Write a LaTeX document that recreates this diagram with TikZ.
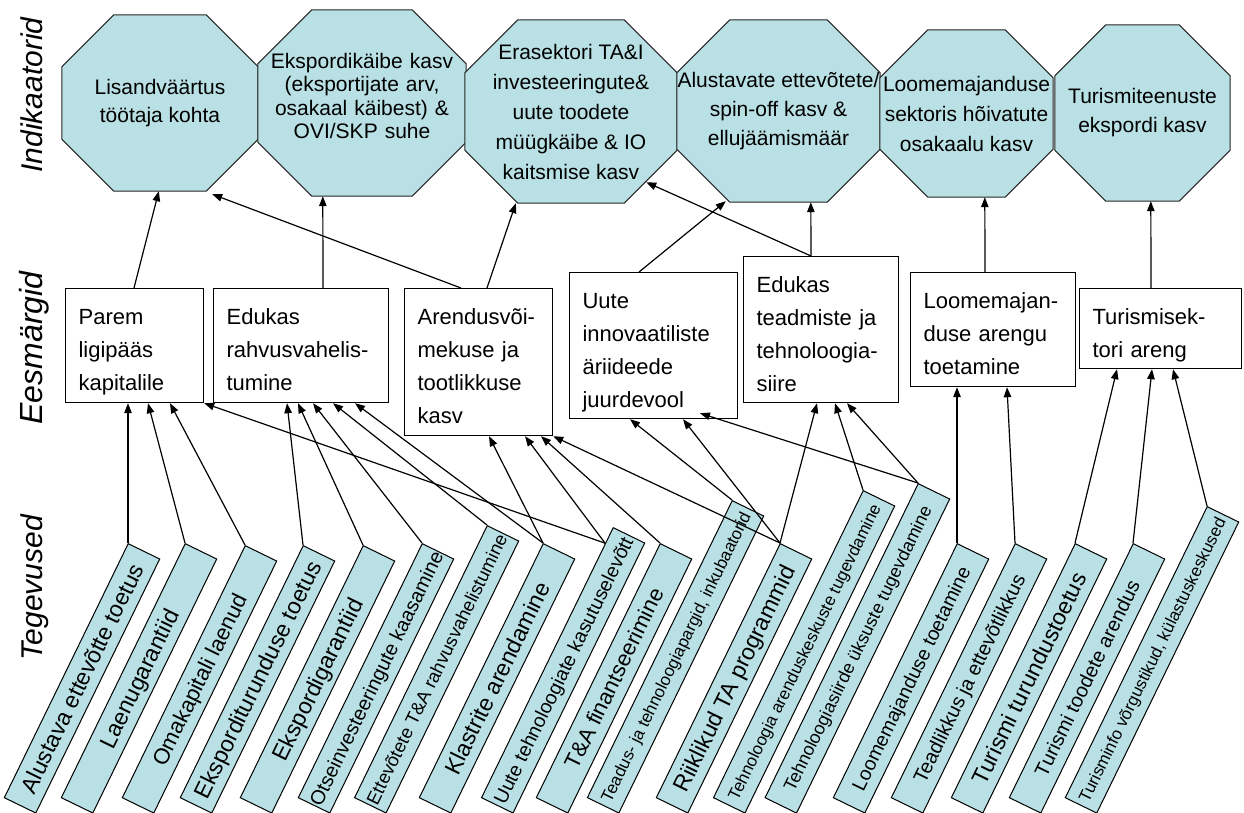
\documentclass[tikz,border=0pt]{standalone}
\usepackage{fontspec}
\setmainfont{Liberation Sans}
\usetikzlibrary{arrows.meta,calc}
\pgfdeclarelayer{background}
\pgfsetlayers{background,main}
\definecolor{tealfill}{RGB}{185,224,228}

% octagon outline around a rectangular node: #1 node name, #2 corner cut
\newcommand{\octagonfor}[2]{%
  \path[octline] ($(#1.north west)+(#2,0)$) -- ($(#1.north east)+(-#2,0)$)
    -- ($(#1.north east)+(0,#2)$) -- ($(#1.south east)+(0,-#2)$)
    -- ($(#1.south east)+(-#2,0)$) -- ($(#1.south west)+(#2,0)$)
    -- ($(#1.south west)+(0,-#2)$) -- ($(#1.north west)+(0,#2)$) -- cycle;}

\begin{document}
\begin{tikzpicture}[x=1pt,y=-1pt,
  oct/.style={inner sep=0pt, align=center, font=\fontsize{21}{#1}\selectfont},
  octline/.style={fill=tealfill, draw=black!85, line width=1pt},
  goal/.style={draw, fill=white, line width=1.2pt, anchor=north west,
    inner xsep=13pt, inner ysep=0pt, align=left,
    font=\fontsize{22}{33}\selectfont, text height=36pt},
  act/.style={draw, fill=tealfill, line width=1pt, inner sep=0pt,
    minimum height=35pt, rotate=64, anchor=north east,
    font=\fontsize{#1}{#1}\selectfont, text height=0.72*#1pt, text depth=0pt},
  side/.style={rotate=90, anchor=base, inner sep=0pt,
    font=\fontsize{#1}{#1}\selectfont\itshape},
  arr/.style={line width=1.2pt, -{Triangle[length=10pt,width=7.5pt]}}]

\begin{pgfonlayer}{background}
  \fill[white] (0,0) rectangle (1244,812);
\end{pgfonlayer}
\useasboundingbox (0,0) rectangle (1244,812);

% row titles
\node[side=30] (tInd) at (42,95) {Indikaatorid};
\node[side=32] (tEes) at (42,348) {Eesmärgid};
\node[side=30] (tTeg) at (42,588) {Tegevused};

% indicators
\node[oct=28, minimum width=196pt, minimum height=176pt] (o1) at (160,103)
  {Lisandväärtus\\töötaja kohta};
\node[oct=23.5, minimum width=208pt, minimum height=186pt, text width=206pt,
  text height=16pt, text depth=86pt] (o2) at (362,103)
  {Ekspordikäibe kasv\\(eksportijate arv,\\osakaal käibest) \&\\OVI/SKP suhe};
\node[oct=30, minimum width=212pt, minimum height=183pt] (o3) at (571,111.5)
  {Erasektori TA\&I\\investeeringute\&\\uute toodete\\müügkäibe \& IO\\kaitsmise kasv};
\node[oct=29, minimum width=203pt, minimum height=182pt] (o4) at (778.5,111)
  {Alustavate ettevõtete/\\spin-off kasv \&\\ellujäämismäär};
\node[oct=30, minimum width=173pt, minimum height=167pt] (o5) at (966.5,113.5)
  {Loomemajanduse\\sektoris hõivatute\\osakaalu kasv};
\node[oct=29, minimum width=175pt, minimum height=176pt] (o6) at (1142.5,113)
  {Turismiteenuste\\ekspordi kasv};

\begin{pgfonlayer}{background}
  \foreach \n/\c in {o1/52,o2/54,o3/53,o4/53,o5/48,o6/51} {\octagonfor{\n}{\c}}
\end{pgfonlayer}

% goals
\node[goal, text width=112pt, text depth=78pt] (g1) at (65,288) {Parem\\ligipääs\\kapitalile};
\node[goal, text width=149pt, text depth=78pt] (g2) at (213,288) {Edukas\\rahvusvahelis-\\tumine};
\node[goal, text width=122pt, text depth=111pt] (g3) at (404,288) {Arendusvõi-\\mekuse ja\\tootlikkuse\\kasv};
\node[goal, text width=142pt, text depth=110pt] (g4) at (569,272) {Uute\\innovaatiliste\\äriideede\\juurdevool};
\node[goal, text width=129pt, text depth=110pt] (g5) at (743,256) {Edukas\\teadmiste ja\\tehnoloogia-\\siire};
\node[goal, text width=139pt, text depth=78pt] (g6) at (910,272) {Loomemajan-\\duse arengu\\toetamine};
\node[goal, text width=136pt, text depth=44pt] (g7) at (1079,288) {Turismisek-\\tori areng};

% activities
\node[act=23, minimum width=282.6pt] (a1) at (128,543) {\makebox[0pt]{Alustava ettevõtte toetus}};
\node[act=23, minimum width=282.6pt] (a2) at (185,543) {\makebox[0pt]{Laenugarantiid}};
\node[act=22, minimum width=280.4pt] (a3) at (245,545) {\makebox[0pt]{Omakapitali laenud}};
\node[act=23, minimum width=280.4pt] (a4) at (303,545) {\makebox[0pt]{Eksporditurunduse toetus}};
\node[act=23, minimum width=280.4pt] (a5) at (363,545) {\makebox[0pt]{Ekspordigarantiid}};
\node[act=20, minimum width=282.6pt] (a6) at (422,543) {\makebox[0pt]{Otseinvesteeringute kaasamine}};
\node[act=18.5, minimum width=302.6pt] (a7) at (487,525) {\makebox[0pt]{Ettevõtete T\&A rahvusvahelistumine}};
\node[act=23, minimum width=282.6pt] (a8) at (543,543) {\makebox[0pt]{Klastrite arendamine}};
\node[act=19.5, minimum width=300.4pt] (a9) at (613,527) {\makebox[0pt]{Uute tehnoloogiate kasutuselevõtt}};
\node[act=22, minimum width=282.6pt] (a10) at (660,543) {\makebox[0pt]{T\&A finantseerimine}};
\node[act=17, minimum width=330.4pt] (a11) at (732,500) {\makebox[0pt]{Teadus- ja tehnoloogiapargid, inkubaatorid}};
\node[act=23, minimum width=282.6pt] (a12) at (780,543) {\makebox[0pt]{Riiklikud TA programmid}};
\node[act=17, minimum width=341.6pt] (a13) at (863,490) {\makebox[0pt]{Tehnoloogia arenduskeskuste tugevdamine}};
\node[act=18, minimum width=349.4pt] (a14) at (918,483) {\makebox[0pt]{Tehnoloogiasiirde üksuste tugevdamine}};
\node[act=19.5, minimum width=282.6pt] (a15) at (957,543) {\makebox[0pt]{Loomemajanduse toetamine}};
\node[act=20, minimum width=282.6pt] (a16) at (1015,543) {\makebox[0pt]{Teadlikkus ja ettevõtlikkus}};
\node[act=23, minimum width=282.6pt] (a17) at (1075,543) {\makebox[0pt]{Turismi turundustoetus}};
\node[act=20, minimum width=282.6pt] (a18) at (1133,543) {\makebox[0pt]{Turismi toodete arendus}};
\node[act=17, minimum width=323.8pt] (a19) at (1207,506) {\makebox[0pt]{Turisminfo võrgustikud, külastuskeskused}};

\coordinate (c9) at ($(a9.north east)!18pt!(a9.north west)$);

% goals -> indicators
\draw[arr] ($(g1.north west)+(69,0)$) -- ($(o1.south west)+(97,0)$);
\draw[arr] ($(g2.north west)+(110,0)$) -- ($(o2.south west)+(65,0)$);
\draw[arr] ($(g3.north west)+(57,0)$) -- ($(o1.south east)+(-46,3)$);
\draw[arr] ($(g3.north west)+(83,0)$) -- ($(o3.south west)+(51,0)$);
\draw[arr] ($(g4.north west)+(70,0)$) -- ($(o4.south west)+(49,-1)$);
\draw[arr] ($(g5.north west)+(68,0)$) -- ($(o4.south west)+(134,0)$);
\draw[arr] ($(g5.north west)+(68,0)$) -- ($(o3.south east)+(-31,-21)$);
\draw[arr] ($(g6.north west)+(75,0)$) -- ($(o5.south west)+(105,0)$);
\draw[arr] ($(g7.north west)+(72,0)$) -- ($(o6.south west)+(96,0)$);

% activities -> goals
\draw[arr] (a1.north east) -- ($(g1.south west)+(63,0)$);
\draw[arr] (a2.north east) -- ($(g1.south west)+(83,0)$);
\draw[arr] (a3.north east) -- ($(g1.south west)+(105,0)$);
\draw[arr] (c9) -- (g1.south east);
\draw[arr] (a4.north east) -- ($(g2.south west)+(74,0)$);
\draw[arr] (a5.north east) -- ($(g2.south west)+(85,0)$);
\draw[arr] (a6.north east) -- ($(g2.south west)+(100,0)$);
\draw[arr] (a7.north east) -- ($(g2.south west)+(120,0)$);
\draw[arr] (a8.north east) -- ($(g2.south west)+(142,0)$);
\draw[arr] (a8.north east) -- ($(g3.south west)+(85,0)$);
\draw[arr] (c9) -- ($(g3.south west)+(121,0)$);
\draw[arr] (a10.north east) -- ($(g3.south west)+(137,0)$);
\draw[arr] (a12.north east) -- (g3.south east);
\draw[arr] (a11.north east) -- ($(g4.south west)+(61,0)$);
\draw[arr] (a12.north east) -- ($(g4.south west)+(114,0)$);
\draw[arr] (a14.north east) -- ($(g4.south west)+(131,-6)$);
\draw[arr] (a12.north east) -- ($(g5.south west)+(74,0)$);
\draw[arr] (a13.north east) -- ($(g5.south west)+(92,0)$);
\draw[arr] (a14.north east) -- ($(g5.south west)+(104,0)$);
\draw[arr] (a15.north east) -- ($(g6.south west)+(47,0)$);
\draw[arr] (a16.north east) -- ($(g6.south west)+(97,0)$);
\draw[arr] (a17.north east) -- ($(g7.south west)+(38,0)$);
\draw[arr] (a18.north east) -- ($(g7.south west)+(73,0)$);
\draw[arr] (a19.north east) -- ($(g7.south west)+(94,0)$);

\end{tikzpicture}
\end{document}
